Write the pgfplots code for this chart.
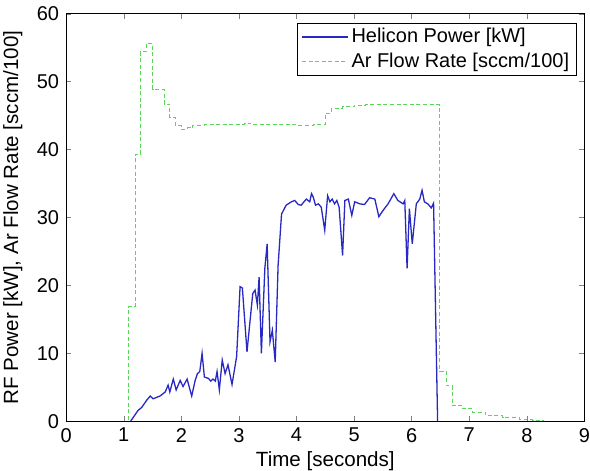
\documentclass[border=0pt]{standalone}
\usepackage{fontspec}
\setmainfont{Liberation Sans}
\usepackage{pgfplots}
\pgfplotsset{compat=1.18}
\definecolor{mblue}{RGB}{40,40,195}
\definecolor{mgreen}{RGB}{90,215,90}
\begin{document}
\begin{tikzpicture}
\begin{axis}[
  scale only axis,
  width=259.5pt, height=204pt,
  xmin=0, xmax=9, ymin=0, ymax=60,
  xtick={0,1,...,9}, ytick={0,10,...,60},
  tick align=inside,
  major tick length=2.5pt,
  axis on top,
  /pgf/number format/assume math mode=true,
  tick label style={font=\fontsize{10}{12}\selectfont},
  xticklabel style={inner xsep=0pt},
  xlabel={Time [seconds]},
  ylabel={RF Power [kW], Ar Flow Rate [sccm/100]},
  label style={font=\fontsize{10.3}{12}\selectfont, inner sep=0pt},
  xlabel style={at={(axis description cs:0.5,-0.098)}, anchor=center},
  ylabel style={at={(axis description cs:-0.103,0.5)}, anchor=center, inner ysep=1.6pt},
  legend cell align=left,
  legend style={at={(axis description cs:1,1)}, anchor=north east,
    xshift=-4pt, yshift=-4.5pt, draw=black, line width=0.4pt,
    inner xsep=2pt, inner ysep=0.8pt,
    font=\fontsize{10}{12}\selectfont,
    nodes={inner ysep=1.75pt, inner xsep=1.5pt}},
  legend image code/.code={\draw[#1] (0pt,0pt) -- (23pt,0pt);},
]
\addplot[mblue, line width=0.65pt] coordinates {
(1.12,0) (1.25,1.6) (1.31,2.0) (1.40,3.1) (1.46,3.7) (1.51,3.3) (1.63,3.7)
(1.72,4.3) (1.77,5.3) (1.80,4.3) (1.86,6.2) (1.91,4.6) (1.98,6.0) (2.03,5.1)
(2.10,6.2) (2.18,3.7) (2.24,6.0) (2.28,7.0) (2.32,7.3) (2.36,10.0) (2.40,6.5)
(2.47,6.3) (2.51,5.9) (2.55,6.2) (2.59,5.9) (2.62,7.3) (2.66,4.6) (2.71,9.0)
(2.76,7.0) (2.81,8.3) (2.88,5.4) (2.96,9.5) (3.02,19.8) (3.06,19.6) (3.14,10.2)
(3.24,18.8) (3.28,19.3) (3.32,17.1) (3.35,21.2) (3.39,10.0) (3.45,22.5) (3.49,26.1)
(3.54,11.7) (3.58,13.4) (3.63,8.7) (3.68,22.9) (3.74,30.5) (3.82,31.8) (3.91,32.3)
(3.97,32.5) (4.03,31.9) (4.08,31.8) (4.17,32.7) (4.23,32.3) (4.26,33.5) (4.29,33.0)
(4.33,31.8) (4.38,32.0) (4.43,31.5) (4.49,28.1) (4.54,33.2) (4.58,32.3) (4.62,32.7)
(4.66,32.0) (4.70,32.5) (4.74,31.5) (4.80,24.4) (4.84,32.5) (4.90,32.7) (4.96,30.3)
(5.01,32.3) (5.10,32.0) (5.18,31.9) (5.27,32.9) (5.36,32.7) (5.43,30.1) (5.50,31.0)
(5.59,32.0) (5.69,33.5) (5.76,32.5) (5.85,32.0) (5.88,32.5) (5.92,22.5) (5.96,31.3)
(6.01,26.1) (6.08,32.0) (6.14,32.7) (6.18,34.0) (6.22,32.3) (6.28,32.0) (6.34,31.4)
(6.38,32.1) (6.45,0)
};
\addlegendentry{Helicon Power [kW]}
\addplot[mgreen, line width=0.5pt, dash pattern=on 2pt off 1.3pt, const plot] coordinates {
(1.00,0) (1.09,16.9) (1.20,39.3) (1.29,54.4) (1.39,55.6) (1.50,48.9) (1.70,46.7)
(1.80,44.7) (1.90,43.5) (2.00,43.0) (2.10,43.2) (2.20,43.6) (2.40,43.7) (3.10,43.9)
(3.20,43.7) (4.00,43.6) (4.30,43.7) (4.50,45.3) (4.60,46.0) (4.80,46.3) (5.00,46.5)
(5.20,46.6) (6.49,7.3) (6.60,5.2) (6.70,2.3) (6.89,1.8) (7.06,1.3) (7.29,0.8)
(7.58,0.5) (7.87,0.3) (8.10,0.1) (8.30,0.1)
};
\addlegendentry{Ar Flow Rate [sccm/100]}
\end{axis}
\end{tikzpicture}
\end{document}
